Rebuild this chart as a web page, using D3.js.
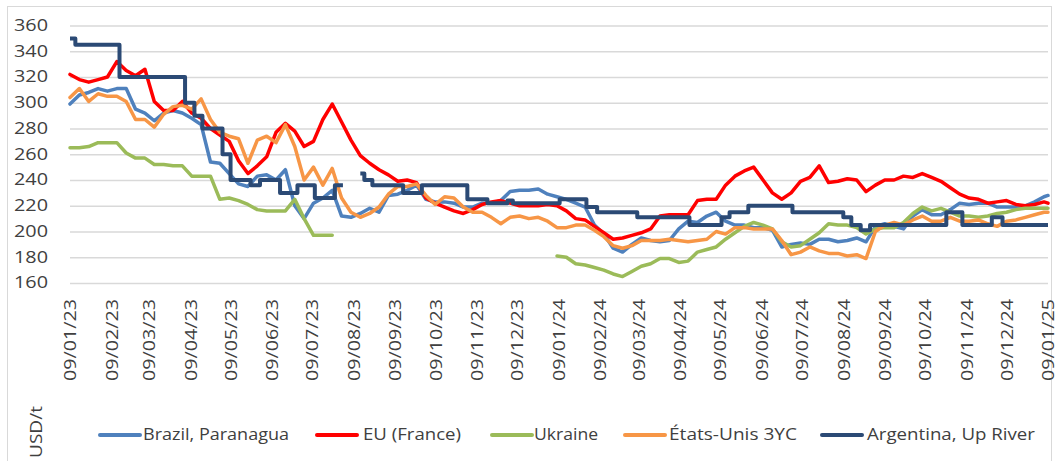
<!DOCTYPE html>
<html>
<head>
<meta charset="utf-8">
<script src="https://cdn.jsdelivr.net/npm/d3@7"></script>
<style>
  body { margin: 0; background: #fff; }
  text { font-family: "Open Sans", sans-serif; fill: #404040; }
</style>
</head>
<body>
<div id="chart"></div>
<script>
// weekly prices, USD/t (Mondays, last point 09/01/25)
var brazil = [299,306,308,311,309,311,311,295,292,286, 292,294,292,288,283,254,253,245,237,235,
  243,244,240,248,220,210,222,226,232,212, 211,214,218,215,228,229,232,236,225,223,
  223,222,219,219,222,222,224,231,232,232, 233,229,227,225,222,219,205,198,187,184,
  190,195,193,192,193,202,208,207,212,215, 208,205,205,203,203,201,188,190,191,190,
  194,194,192,193,195,192,204,206,204,202, 212,217,213,213,217,222,221,222,222,219,
  219,219,220,223,227,228];
var france = [322,318,316,318,320,332,325,321,326,301, 294,294,301,292,288,280,275,270,255,245,
  251,258,277,284,278,266,270,287,299,285, 271,259,253,248,244,239,240,238,226,222,
  219,216,214,217,221,223,224,222,220,220, 220,221,220,216,210,209,204,199,194,195,
  197,199,202,212,213,213,213,224,225,225, 236,243,247,250,240,230,225,230,239,242,
  251,238,239,241,240,231,236,240,240,243, 242,245,242,239,234,229,226,225,222,223,
  224,221,220,221,223,222];
var ukraine = [265,265,266,269,269,269,261,257,257,252, 252,251,251,243,243,243,225,226,224,221,
  217,216,216,216,225,210,197,197,197,null, null,null,null,null,null,null,null,null,null,null,
  null,null,null,null,null,null,null,null,null,null, null,null,181,180,175,174,172,170,167,165,
  169,173,175,179,179,176,177,184,186,188, 194,199,204,207,205,202,192,188,189,194,
  199,206,205,205,203,198,202,203,203,207, 214,219,216,218,215,212,212,211,212,214,
  215,217,218,218,218,218];
var usa = [304,311,301,307,305,305,301,287,287,281, 291,297,298,295,303,287,277,274,272,253,
  271,274,269,283,266,240,250,236,249,226, 215,211,214,219,229,235,235,237,228,221,
  227,226,219,215,215,211,206,211,212,210, 211,208,203,203,205,205,201,196,189,187,
  189,193,193,193,194,193,192,193,194,200, 198,203,203,202,202,202,193,182,184,188,
  185,183,183,181,182,179,200,205,207,205, 209,212,208,208,211,208,208,209,206,204,
  208,209,211,213,215,215];

// Argentina only changes in steps: date of each change and the new price
var argDates = ["2023-01-09","2023-01-13","2023-02-15","2023-04-05","2023-04-12","2023-04-18",
  "2023-05-03","2023-05-09","2023-05-24","2023-05-31","2023-06-15","2023-06-28","2023-07-11",
  "2023-07-26","2023-08-01","2023-08-02","2023-08-14","2023-08-17","2023-08-23","2023-09-15",
  "2023-09-29","2023-11-02","2023-11-17","2023-12-02","2023-12-06","2024-01-10","2024-01-30",
  "2024-02-07","2024-03-08","2024-04-16","2024-05-10","2024-05-16","2024-05-30","2024-07-02",
  "2024-08-09","2024-08-15","2024-08-22","2024-08-29","2024-10-25","2024-11-06","2024-11-28",
  "2024-12-06","2025-01-09"];
var argValues = [350,345,320,300,290,280,260,240,236,240,230,236,226,236,236,null,245,240,236,230,
  236,225,222,224,222,225,219,215,211,205,211,215,220,215,211,205,201,205,215,205,211,205,205];

var xTickLabels = ["09/01/23","09/02/23","09/03/23","09/04/23","09/05/23","09/06/23","09/07/23",
  "09/08/23","09/09/23","09/10/23","09/11/23","09/12/23","09/01/24","09/02/24","09/03/24",
  "09/04/24","09/05/24","09/06/24","09/07/24","09/08/24","09/09/24","09/10/24","09/11/24",
  "09/12/24","09/01/25"];
var yTicks = [160,180,200,220,240,260,280,300,320,340,360];

var seriesNames = ["Brazil, Paranagua", "EU (France)", "Ukraine", "États-Unis 3YC", "Argentina, Up River"];
var seriesColors = ["#4f81bd", "#ff0000", "#9bbb59", "#f79646", "#2b4a75"];

var svgWidth = 1062;
var svgHeight = 461;
var margin = {top: 25.5, right: 14, bottom: 178, left: 70};
var width = svgWidth - margin.left - margin.right;
var height = svgHeight - margin.top - margin.bottom;

var parseDate = d3.timeParse("%Y-%m-%d");
var parseTick = d3.timeParse("%d/%m/%y");

// weekly dates for the four daily series
var weeks = d3.timeMonday.range(parseDate("2023-01-09"), parseDate("2025-01-07"));
weeks.push(parseDate("2025-01-09"));

var svg = d3.select("#chart")
  .append("svg")
  .attr("width", svgWidth)
  .attr("height", svgHeight);

svg.append("rect")
  .attr("width", svgWidth).attr("height", svgHeight)
  .attr("fill", "#fff");

// outer chart frame
svg.append("rect")
  .attr("x", 7.5).attr("y", 6.5)
  .attr("width", 1044).attr("height", 470)
  .attr("fill", "none")
  .attr("stroke", "#d9d9d9");

var chartGroup = svg.append("g")
  .attr("transform", `translate(${margin.left}, ${margin.top})`);

var xTimeScale = d3.scaleTime()
  .domain([parseDate("2023-01-09"), parseDate("2025-01-09")])
  .range([0, width]);
var yLinearScale = d3.scaleLinear().domain([160, 360]).range([height, 0]);

// gridlines
var grid = chartGroup.append("g")
  .call(d3.axisLeft(yLinearScale).tickValues(yTicks).tickSize(-width).tickFormat(""));
grid.select(".domain").remove();
grid.selectAll("line").attr("stroke", "#d9d9d9").attr("stroke-width", 1.5);

// y axis labels
var yAxis = chartGroup.append("g")
  .call(d3.axisLeft(yLinearScale).tickValues(yTicks).tickSize(0).tickPadding(22));
yAxis.select(".domain").remove();
yAxis.attr("font-size", null).attr("font-family", null);
yAxis.selectAll("text")
  .attr("font-size", "15.5px")
  .attr("textLength", 34)
  .attr("lengthAdjust", "spacingAndGlyphs")
  .style("fill", "#404040");

// x axis labels, rotated
var xAxis = chartGroup.append("g")
  .attr("transform", `translate(0, ${height})`)
  .call(d3.axisBottom(xTimeScale)
    .tickValues(xTickLabels.map(parseTick))
    .tickFormat(d3.timeFormat("%d/%m/%y"))
    .tickSize(0));
xAxis.select(".domain").remove();
xAxis.attr("font-size", null).attr("font-family", null);
xAxis.selectAll("text")
  .attr("transform", "rotate(-90)")
  .attr("x", -16)
  .attr("y", 0)
  .attr("dy", "0.35em")
  .attr("font-size", "16.5px")
  .attr("textLength", 82)
  .attr("lengthAdjust", "spacingAndGlyphs")
  .style("text-anchor", "end")
  .style("fill", "#404040");

var weekly = [brazil, france, ukraine, usa];

var line = d3.line()
  .defined(function(d) { return d.v != null; })
  .x(function(d) { return xTimeScale(d.date); })
  .y(function(d) { return yLinearScale(d.v); });

weekly.forEach(function(values, i) {
  var pts = weeks.map(function(date, j) { return {date: date, v: values[j]}; });
  chartGroup.append("path")
    .datum(pts)
    .attr("d", line)
    .attr("fill", "none")
    .attr("stroke", seriesColors[i])
    .attr("stroke-width", 3.5)
    .attr("stroke-linejoin", "round")
    .attr("stroke-linecap", "round");
});

var argPts = argDates.map(function(d, j) { return {date: parseDate(d), v: argValues[j]}; });
chartGroup.append("path")
  .datum(argPts)
  .attr("d", line.curve(d3.curveStepAfter))
  .attr("fill", "none")
  .attr("stroke", seriesColors[4])
  .attr("stroke-width", 4)
  .attr("stroke-linejoin", "round");

// y axis title
svg.append("text")
  .attr("transform", "translate(36, 432) rotate(-90)")
  .attr("dy", "0.35em")
  .attr("font-size", "16.5px")
  .attr("textLength", 52)
  .attr("lengthAdjust", "spacingAndGlyphs")
  .style("text-anchor", "middle")
  .text("USD/t");

// legend
var legendLineX = [100, 317, 492, 625, 822];
var legendTextX = [143, 363, 534, 669, 867];
var legendTextW = [146, 98, 64, 128, 168];
var legendY = 435;

var legend = svg.append("g");
seriesNames.forEach(function(name, i) {
  legend.append("line")
    .attr("x1", legendLineX[i]).attr("x2", legendLineX[i] + 40)
    .attr("y1", legendY).attr("y2", legendY)
    .attr("stroke", seriesColors[i])
    .attr("stroke-width", 4)
    .attr("stroke-linecap", "round");
  legend.append("text")
    .attr("x", legendTextX[i])
    .attr("y", legendY)
    .attr("dy", "0.35em")
    .attr("font-size", "15.5px")
    .attr("textLength", legendTextW[i])
    .attr("lengthAdjust", "spacingAndGlyphs")
    .text(name);
});
</script>
</body>
</html>
